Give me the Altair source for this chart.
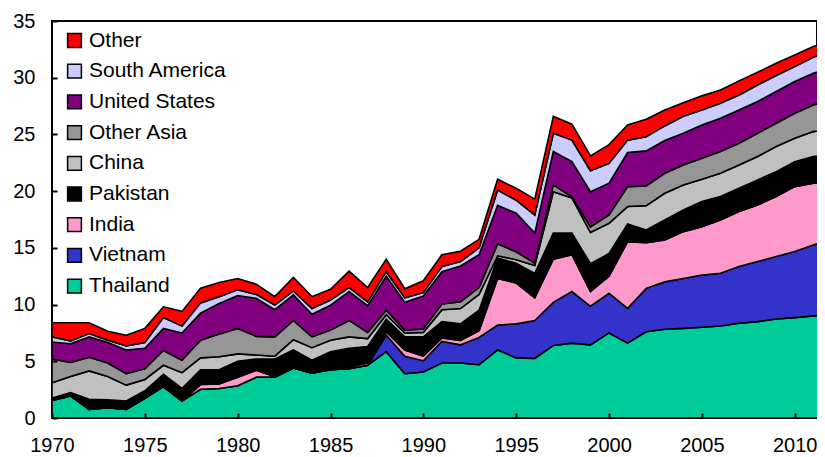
import altair as alt
import pandas as pd

years = list(range(1970, 2013))

series = ["Thailand", "Vietnam", "India", "Pakistan", "China",
          "Other Asia", "United States", "South America", "Other"]
colors = ["#00CC99", "#3333CC", "#FF99CC", "#000000", "#C0C0C0",
          "#969696", "#800080", "#CCCCFF", "#FF0000"]

thailand = [1.55, 1.95, 0.76, 0.9, 0.76, 1.73, 2.76, 1.5, 2.53, 2.6,
            2.85, 3.6, 3.6, 4.4, 3.95, 4.25, 4.35, 4.65, 5.85, 3.9,
            4.05, 4.85, 4.85, 4.7, 6.0, 5.3, 5.26, 6.4, 6.6, 6.45,
            7.5, 6.6, 7.6, 7.82, 7.9, 8.0, 8.11, 8.35, 8.5, 8.73,
            8.85, 9.0, 9.15]
vietnam = [0, 0, 0, 0, 0, 0, 0, 0, 0, 0,
           0, 0, 0, 0, 0, 0, 0, 0, 1.45, 1.55,
           1.0, 1.9, 1.6, 2.4, 2.2, 3.0, 3.34, 3.8, 4.55, 3.4,
           3.5, 3.07, 3.83, 4.18, 4.4, 4.6, 4.65, 5.0, 5.29, 5.5,
           5.82, 6.26, 6.6]
india = [0, 0, 0, 0, 0, 0, 0, 0, 0.42, 0.4,
         0.75, 0.6, 0.05, 0, 0, 0.1, 0.15, 0.2, 0.3, 0.55,
         0.4, 0.3, 0.4, 0.6, 4.1, 3.6, 2.0, 3.8, 3.25, 1.3,
         1.5, 5.88, 4.03, 3.7, 4.13, 4.27, 4.7, 4.85, 4.99, 5.29,
         5.73, 5.43, 5.1]
pakistan = [0.2, 0.3, 0.89, 0.7, 0.74, 0.67, 1.09, 1.1, 1.3, 1.25,
            1.4, 1.0, 1.55, 1.6, 1.15, 1.5, 1.65, 1.45, 1.1, 1.15,
            1.7, 1.45, 1.45, 1.8, 1.8, 1.75, 2.15, 2.3, 1.9, 2.45,
            2.0, 1.55, 1.12, 1.76, 1.91, 2.21, 2.06, 2.05, 2.21, 2.2,
            2.2, 2.36, 2.45]
china = [1.35, 1.4, 2.5, 2.05, 1.4, 1.0, 0.8, 1.4, 1.05, 1.15,
         0.65, 0.35, 0.25, 0.9, 1.1, 1.0, 1.0, 0.7, 0.4, 0.35,
         0.4, 1.05, 1.35, 1.4, 0.2, 0.3, 0.7, 3.65, 3.1, 2.75,
         2.67, 1.54, 2.14, 2.35, 2.21, 1.97, 2.06, 2.05, 2.06, 2.21,
         2.06, 2.2, 2.2]
other_asia = [2.1, 1.25, 1.2, 1.2, 1.0, 0.95, 1.3, 1.1, 1.55, 2.0,
              2.25, 1.65, 1.7, 1.7, 0.95, 0.9, 1.45, 0.55, 0.4, 0.25,
              0.3, 0.5, 0.6, 0.6, 1.05, 0.7, 0.19, 0.6, 0.1, 0.5,
              0.73, 1.76, 1.74, 1.77, 1.75, 1.85, 1.91, 1.92, 2.05, 2.05,
              2.21, 2.35, 2.6]
united_states = [1.5, 1.65, 1.8, 1.8, 2.1, 1.8, 1.95, 2.4, 2.4, 2.7,
                 2.9, 3.35, 2.4, 2.25, 2.0, 2.2, 2.55, 2.35, 3.0, 2.45,
                 2.9, 2.85, 3.15, 2.9, 3.4, 3.4, 2.66, 2.95, 3.1, 3.1,
                 2.8, 3.0, 3.09, 2.88, 2.8, 2.94, 2.94, 2.94, 2.8, 2.8,
                 2.79, 2.79, 2.85]
south_america = [0.45, 0.25, 0.3, 0.2, 0.35, 0.5, 0.95, 0.6, 0.9, 0.6,
                 0.5, 0.35, 0.4, 0.35, 0.5, 0.45, 0.35, 0.35, 0.4, 0.4,
                 0.3, 0.45, 0.4, 0.6, 1.35, 1.15, 1.6, 1.6, 1.9, 1.85,
                 1.76, 1.1, 1.25, 1.29, 1.5, 1.32, 1.32, 1.32, 1.46, 1.41,
                 1.32, 1.41, 1.45]
other = [1.25, 1.6, 0.95, 0.8, 0.95, 1.25, 0.95, 1.3, 1.3, 1.25,
         1.0, 0.9, 0.75, 1.2, 1.05, 0.95, 1.45, 1.25, 1.1, 0.8,
         1.05, 1.05, 0.9, 0.75, 0.95, 1.05, 1.4, 1.5, 1.4, 1.3,
         1.64, 1.34, 1.54, 1.41, 1.2, 1.24, 1.17, 1.24, 1.12, 1.09,
         1.02, 0.95, 0.9]

x_ticks = [1970, 1975, 1980, 1985, 1990, 1995, 2000, 2005, 2010]
y_ticks = [0, 5, 10, 15, 20, 25, 30, 35]

values = [thailand, vietnam, india, pakistan, china, other_asia,
          united_states, south_america, other]
rows = []
for k, (name, vals) in enumerate(zip(series, values)):
    for yr, v in zip(years, vals):
        rows.append({"year": yr, "series": name, "value": v, "k": k})
df = pd.DataFrame(rows)

FONT = "Liberation Sans"

chart = alt.Chart(df).mark_area(
    stroke="black", strokeWidth=1.6, clip=True, opacity=1
).encode(
    x=alt.X("year:Q",
            scale=alt.Scale(domain=[1970, 2011.2], nice=False, zero=False),
            axis=alt.Axis(values=x_ticks, format="d", title=None, grid=False,
                          domain=False, offset=-5, tickSize=5, tickWidth=2,
                          tickColor="black", labelPadding=17, labelFontSize=20,
                          labelColor="black", labelFont=FONT, zindex=1,
                          labelFlush=False)),
    y=alt.Y("value:Q", stack="zero",
            scale=alt.Scale(domain=[0, 35], nice=False),
            axis=alt.Axis(values=y_ticks, title=None, grid=False,
                          domain=False, offset=-5, tickSize=5, tickWidth=2,
                          tickColor="black", labelPadding=17, labelFontSize=20,
                          labelColor="black", labelFont=FONT, zindex=1)),
    color=alt.Color("series:N",
                    scale=alt.Scale(domain=series[::-1], range=colors[::-1]),
                    legend=alt.Legend(title=None, orient="none", legendX=12,
                                      legendY=9, symbolType="square",
                                      symbolSize=190, symbolStrokeColor="black",
                                      symbolStrokeWidth=1.5, symbolOpacity=1,
                                      labelFontSize=21, labelFont=FONT,
                                      labelColor="black", labelOffset=4,
                                      rowPadding=8.7, padding=0)),
    order=alt.Order("k:Q", sort="ascending"),
).properties(
    width=765, height=397,
    autosize=alt.AutoSizeParams(type="none"),
    padding={"left": 44, "top": 13, "right": 0, "bottom": 39},
).configure_view(stroke="black", strokeWidth=2)

chart.save("out.html", embed_options={"renderer": "svg", "actions": False})
